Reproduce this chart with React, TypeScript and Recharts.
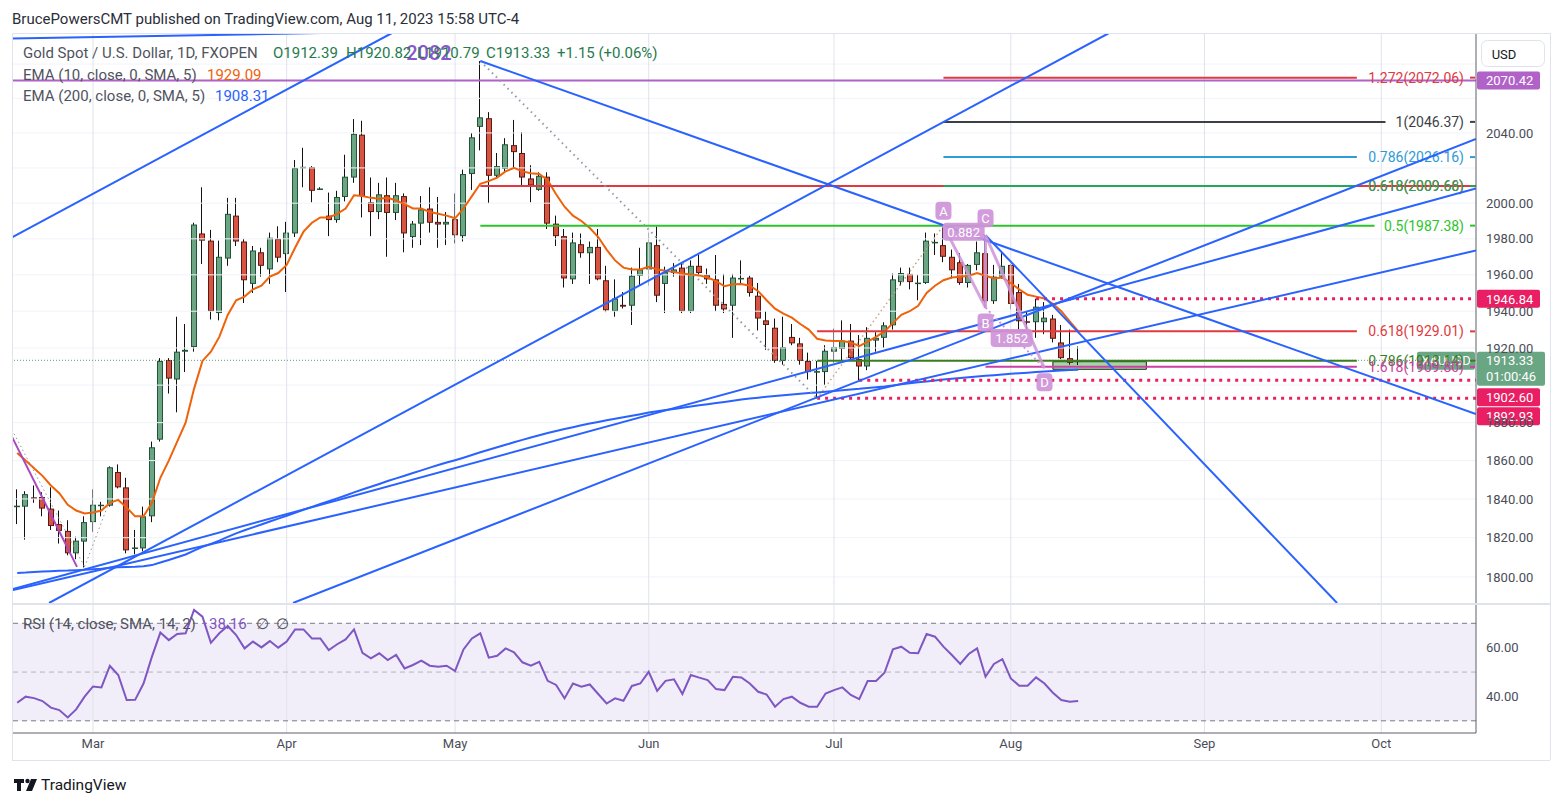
import React from "react";
import {
  ComposedChart,
  Bar,
  Line,
  XAxis,
  YAxis,
  ReferenceLine,
  ReferenceArea,
  ReferenceDot,
} from "recharts";

// XAUUSD daily, FXOPEN. Bar index 0 = Feb 16 2023, 126 = Aug 11 2023 (weekdays only)
const opens = [
  1836, 1836, 1840.8, 1841, 1835, 1827, 1823.5, 1812, 1818, 1828,
  1836.5, 1836.5, 1854, 1846, 1814.5, 1814.5, 1831, 1871, 1913.5, 1903,
  1918, 1920.5, 1983, 1979, 1939, 1969, 1993, 1978.5, 1955, 1972.5,
  1963, 1980, 1971.5, 1983, 2020, 2020.5, 2008, 1993, 1990.5, 2003.5,
  2014.5, 2039, 2000.5, 1995, 2004.5, 1994.5, 2004, 1981, 1988.5, 1997,
  1989.5, 1988, 1991, 1981.5, 2016.5, 2043.5, 2048.5, 2015.5, 2019.5, 2033,
  2028.5, 2014, 2007.5, 2015, 1988.5, 1981.5, 1957.5, 1977, 1972, 1975.5,
  1957, 1940, 1943.5, 1943, 1959.5, 1963, 1976.5, 1955, 1961, 1964,
  1940, 1965, 1960, 1957.5, 1944, 1943, 1958, 1958.5, 1948.5, 1935,
  1931, 1913, 1926, 1922.5, 1913, 1907, 1907, 1918, 1919.5, 1924,
  1914, 1910, 1924, 1925.5, 1932.3, 1956, 1960.5, 1955, 1955.5, 1978,
  1976.5, 1970, 1967, 1955.5, 1965.5, 1972, 1945.5, 1959, 1965.5, 1950.5,
  1934.5, 1934, 1934, 1936, 1923, 1914.5, 1912.39,
];
const highs = [
  1845, 1844, 1847, 1843.5, 1846, 1834, 1829, 1820.5, 1831, 1845,
  1838.5, 1857, 1858, 1851, 1824, 1836, 1870, 1914.5, 1914.5, 1937,
  1933, 1989, 2009, 1985, 1979, 2003, 2003, 1980, 1976, 1975,
  1983.5, 1987, 1989.5, 2024.5, 2031.5, 2021, 2009, 2006, 2007, 2027.5,
  2048, 2047, 2014.5, 2011.5, 2014.5, 2011.5, 2005.5, 1990, 2004, 2009,
  2003.5, 1995, 2005.5, 2019, 2040, 2081.8, 2052, 2028.5, 2037, 2047.5,
  2040.5, 2021.5, 2017.5, 2017.5, 1993, 1985.5, 1983.5, 1983, 1978.5, 1985.5,
  1965, 1957.5, 1950.5, 1964, 1975, 1983.5, 1987, 1964.5, 1966.5, 1966.5,
  1968, 1971, 1963.5, 1971, 1960.5, 1960.5, 1968, 1959.5, 1955.5, 1940,
  1936, 1937, 1933, 1925.5, 1917.5, 1913, 1921.5, 1930.5, 1935, 1933,
  1927, 1931.3, 1928.6, 1934, 1960.7, 1964, 1964, 1960, 1983.5, 1983,
  1987.38, 1974, 1972, 1966, 1978.5, 1982, 1965.5, 1972, 1966, 1955,
  1940, 1946.84, 1945, 1938, 1932.5, 1930, 1920.82,
];
const lows = [
  1827, 1819, 1838, 1831, 1824, 1817, 1811, 1809, 1804.8, 1823,
  1831, 1836, 1845.5, 1812, 1811.5, 1813, 1828, 1870, 1895.5, 1885.5,
  1907, 1918, 1966, 1935.5, 1935, 1965, 1976, 1944.5, 1950, 1959,
  1955, 1967, 1950.5, 1981, 2009, 2000.5, 2007.5, 1981.5, 1989, 2001,
  2011.5, 1992, 1981.5, 1991, 1970, 1990.5, 1972.5, 1975, 1976.5, 1983.5,
  1975, 1976.5, 1977.5, 1978.5, 2007.5, 2030, 2000, 2014.5, 2018, 2020.5,
  2010, 2000.5, 2007, 1985.5, 1976, 1953, 1955, 1969.5, 1955, 1957,
  1939.5, 1937, 1941.5, 1932.5, 1954, 1954, 1945, 1939, 1959, 1939,
  1939, 1960, 1955, 1940, 1939, 1925.5, 1955.5, 1948, 1929.5, 1919,
  1912, 1911, 1921.5, 1911, 1903, 1892.93, 1900, 1912, 1913, 1914,
  1902.6, 1908, 1918, 1920, 1930, 1954, 1952, 1946, 1955, 1971,
  1967, 1958, 1954.5, 1953, 1962.5, 1942, 1944, 1958, 1941, 1929.5,
  1929, 1925.5, 1927.5, 1923, 1914, 1911, 1910.79,
];
const closes = [
  1836.5, 1842.5, 1840.2, 1835, 1826, 1823.5, 1812, 1818.5, 1828, 1837,
  1837, 1856.5, 1846, 1813.5, 1815, 1831, 1867, 1913, 1903.5, 1918,
  1919, 1988, 1979, 1940, 1970, 1994, 1978.5, 1957, 1973.5, 1965,
  1980.6, 1969.5, 1983.5, 2020, 2020.6, 2007, 2008.3, 1990.5, 2003.5, 2015,
  2039.5, 2004, 1995, 2005, 1994.5, 2004.5, 1983, 1988.5, 1996.5, 1989,
  1988, 1989.5, 1982, 2016.5, 2037.5, 2049, 2015.5, 2021, 2033.5, 2029,
  2014.5, 2010, 2015.5, 1988.5, 1981.5, 1958, 1978, 1972, 1975.5, 1957.5,
  1940.5, 1947, 1942.5, 1959.5, 1963, 1978, 1948.5, 1961.5, 1963, 1940,
  1965, 1961, 1957.5, 1943, 1941, 1958.5, 1958.3, 1950, 1936, 1932.5,
  1913, 1920.5, 1922.5, 1913, 1907, 1907.5, 1918.5, 1920.5, 1924, 1914.5,
  1910, 1925.5, 1925.5, 1932.3, 1957.5, 1961, 1956, 1955.7, 1979, 1978.3,
  1970, 1962.5, 1955.5, 1965.5, 1972.5, 1945.5, 1959, 1965, 1944, 1934.5,
  1934, 1942.5, 1936.5, 1925, 1914.5, 1912, 1913.33,
];
const ema10 = [
  1864, 1860, 1856, 1852, 1847, 1843, 1837, 1834, 1832.5, 1833,
  1834, 1838, 1839.5, 1835.5, 1831, 1831, 1838, 1851, 1860, 1870,
  1880, 1898, 1913, 1918, 1926, 1938, 1946, 1948, 1952, 1954,
  1959, 1961, 1965.5, 1975, 1984, 1989, 1992, 1992, 1994, 1997,
  2004.5, 2004, 2003, 2002.5, 2003, 2001.5, 1999.5, 1997, 1997, 1995,
  1994, 1993, 1991.5, 1997, 2004, 2011, 2012.5, 2014.5, 2018, 2020,
  2018, 2017, 2016.5, 2013, 2005, 1998, 1993, 1990, 1986, 1981,
  1974, 1968, 1964, 1963, 1963, 1964.5, 1963, 1962.3, 1961.5, 1960.8,
  1960.2, 1959.7, 1958.5, 1956.5, 1953.7, 1954.8, 1955, 1954, 1951, 1946,
  1941.4, 1938.7, 1936.5, 1933, 1930, 1925, 1924, 1923.8, 1923.8, 1923,
  1921, 1923.5, 1926, 1929, 1933.5, 1938, 1940, 1943, 1950, 1954,
  1957, 1958.5, 1959, 1959.5, 1961, 1959.5, 1958, 1958.5, 1955.5, 1952,
  1949, 1948, 1947, 1944, 1940, 1934.5, 1929.09,
];
const ema200 = [
  1802.0, 1802.2, 1802.5, 1802.7, 1802.9, 1803.1, 1803.2, 1803.4, 1803.6, 1803.9,
  1804.2, 1804.6, 1804.9, 1805.0, 1805.1, 1805.4, 1806.0, 1807.3, 1808.6, 1810.0,
  1811.4, 1813.4, 1815.3, 1816.8, 1818.5, 1820.4, 1822.2, 1823.8, 1825.3, 1826.8,
  1828.3, 1829.8, 1831.3, 1832.8, 1834.4, 1835.9, 1837.4, 1838.8, 1840.3, 1841.8,
  1843.4, 1844.9, 1846.3, 1847.8, 1849.3, 1850.7, 1852.1, 1853.5, 1854.9, 1856.3,
  1857.7, 1859.0, 1860.2, 1861.5, 1862.9, 1864.4, 1865.7, 1867.0, 1868.3, 1869.6,
  1870.9, 1872.1, 1873.3, 1874.5, 1875.6, 1876.6, 1877.6, 1878.6, 1879.5, 1880.4,
  1881.3, 1882.1, 1882.9, 1883.7, 1884.5, 1885.4, 1886.0, 1886.7, 1887.3, 1887.9,
  1888.6, 1889.2, 1889.8, 1890.4, 1891.0, 1891.6, 1892.3, 1892.8, 1893.3, 1893.8,
  1894.2, 1894.6, 1895.0, 1895.4, 1895.8, 1896.1, 1896.5, 1896.9, 1897.3, 1897.7,
  1898.0, 1898.4, 1898.8, 1899.2, 1899.8, 1900.4, 1901.0, 1901.5, 1902.0, 1902.5,
  1903.0, 1903.4, 1903.8, 1904.2, 1904.6, 1905.0, 1905.3, 1905.7, 1906.1, 1906.4,
  1906.7, 1907.0, 1907.3, 1907.6, 1907.8, 1908.1, 1908.31,
];
const rsi = [
  37.4, 39.9, 39.3, 38.1, 35.4, 34.4, 31.4, 34.7, 39.9, 44.1,
  43.7, 52.5, 48.8, 38.5, 38.6, 45.3, 56.3, 66.2, 63.1, 65.6,
  65.9, 75.5, 72.7, 62.0, 65.9, 68.9, 65.2, 59.7, 62.5, 60.1,
  62.7, 60.0, 62.5, 67.5, 67.5, 63.8, 63.8, 59.0, 61.4, 63.4,
  67.5, 57.9, 55.6, 57.7, 54.9, 57.0, 51.5, 52.9, 54.7, 52.6,
  52.2, 52.6, 50.4, 59.3, 63.8, 65.9, 55.9, 56.7, 59.7, 58.1,
  54.0, 52.6, 54.2, 46.4, 44.7, 39.2, 45.3, 44.0, 44.9, 41.0,
  37.1, 39.2, 38.2, 44.3, 45.3, 50.1, 42.3, 46.4, 47.0, 41.0,
  48.8, 47.7, 46.7, 43.0, 42.6, 48.1, 47.8, 45.3, 41.9, 40.8,
  35.8, 38.9, 39.9, 37.4, 35.8, 35.8, 41.2, 42.6, 43.7, 40.6,
  38.9, 46.3, 46.3, 49.7, 59.3, 60.4, 57.9, 57.7, 65.6, 64.5,
  60.4, 57.0, 53.3, 57.4, 59.7, 48.1, 53.3, 55.3, 47.4, 44.4,
  44.4, 47.8, 45.3, 41.5, 38.5, 37.8, 38.16,
];

// time axis: first bar of each month
const monthTicks = [9, 32, 52, 75, 97, 118, 141, 162];
const monthLabels = ["Mar", "Apr", "May", "Jun", "Jul", "Aug", "Sep", "Oct"];
const priceTicks = [2040, 2000, 1980, 1960, 1940, 1920, 1880, 1860, 1840, 1820, 1800];
const gridPrices = [2080, 2060, 2040, 2020, 2000, 1980, 1960, 1940, 1920, 1900, 1880, 1860, 1840, 1820, 1800];
const rsiTicks = [40, 60];

// drawings: [barIndex1, price1, barIndex2, price2]
const trendLines = [
  [-0.62, 1980.8, 44.5, 2098.3],
  [-0.62, 2095.1, 36, 2098.3],
  [3.78, 1786.8, 129.67, 2098.3],
  [55, 2081.8, 173.25, 1884.6],
  [115, 1982, 156.75, 1786.8],
  [32.75, 1786.8, 173.25, 2036.6],
  [-0.62, 1793.7, 173.25, 2008.3],
  [-0.62, 1793.2, 173.25, 1973.5],
];

// fib levels: label, price, from bar, to bar
const fibLabels = ["1.272(2072.06)", "1(2046.37)", "0.786(2026.16)", "0.618(2009.66)", "0.618(2009.68)", "0.5(1987.38)", "0.618(1929.01)", "0.786(1913.14)", "1.618(1909.80)"];
const fibPrices = [2072.06, 2046.37, 2026.16, 2009.66, 2009.68, 1987.38, 1929.01, 1913.14, 1909.8];
const fibFrom = [110, 110, 110, 55, 110, 55, 95, 95, 115];
const fibTo = [159.1, 162.5, 159.1, 173.25, 159.1, 161.2, 159.1, 159.1, 159.1];
const fibColors = ["#e0393e", "#3c3f46", "#2e9ad6", "#e0393e", "#22a85a", "#2bc42b", "#e0393e", "#3a7d1e", "#cc3fa6"];

// support / resistance marks (dotted), start bar
const levelPrices = [1946.84, 1902.6, 1892.93];
const levelFrom = [121, 100, 95];
const levelTagShift = [0, 17, 18];

const pricePoints = { A: [110, 1987.38], B: [115, 1942], C: [115, 1982], D: [122, 1909] };

const FONT = "Roboto, 'Noto Sans', Arial, sans-serif";
const W = 1564;
const H = 807;
const PLOT_LEFT = 12;
const PLOT_RIGHT = 1476;
const AXIS_W = W - PLOT_RIGHT;
const X_DOMAIN: [number, number] = [-0.62, 173.25];
const PRICE_DOMAIN: [number, number] = [1786.8, 2098.3];
const RSI_DOMAIN: [number, number] = [25, 77.5];

const UP_FILL = "#6ba583";
const UP_EDGE = "#225437";
const DN_FILL = "#d75442";
const DN_EDGE = "#5b1a13";
const BLUE = "#2962ff";
const ORANGE = "#ef6209";
const PURPLE = "#b062c8";
const PINK = "#e91e63";
const RSI_COLOR = "#7e57c2";
const PATTERN = "#ce93d8";
const TAG_GREEN = "#6aa584";
const AXIS_TEXT = "#4a4d57";
const AXIS_LINE = "#5d606b";
const GRID = "#e0e3eb";

const CandleBody = (p: any) => {
  const { x, y, width, height, payload } = p;
  if (x == null || payload == null) return null;
  const up = payload.c >= payload.o;
  const c = Math.round(x + width / 2);
  const h = Math.max(height || 0, 1);
  return (
    <rect
      x={c - 2.5}
      y={y + 0.5}
      width={5}
      height={Math.max(h - 1, 0.5)}
      fill={up ? UP_FILL : DN_FILL}
      stroke={up ? UP_EDGE : DN_EDGE}
      strokeWidth={1}
    />
  );
};

const CandleWick = (p: any) => {
  const { x, y, width, height } = p;
  if (x == null) return null;
  const c = Math.round(x + width / 2) - 0.5;
  return <line x1={c} x2={c} y1={y} y2={y + height} stroke="#111" strokeWidth={1} />;
};

const fibLabel = (text: string, color: string) => (props: any) => {
  const vb = props.viewBox || {};
  const y = vb.y;
  return (
    <g>
      <text x={PLOT_RIGHT - 12} y={y} textAnchor="end" dominantBaseline="central" fill={color} fontSize={14} fontFamily={FONT}>
        {text}
      </text>
      <line x1={PLOT_RIGHT - 6} x2={PLOT_RIGHT - 1} y1={y} y2={y} stroke={color} strokeWidth={2} />
    </g>
  );
};

const axisTag = (text: string, bg: string, shift = 0) => (props: any) => {
  const vb = props.viewBox || {};
  const left = vb.x + vb.width + 1;
  const cy = vb.y + shift;
  return (
    <g>
      <rect x={left} y={cy - 9} width={63} height={18} rx={2} fill={bg} />
      <text x={left + 9} y={cy + 0.5} dominantBaseline="central" fill="#fff" fontSize={13} fontFamily={FONT}>
        {text}
      </text>
    </g>
  );
};

const lastPriceTag = (props: any) => {
  const vb = props.viewBox || {};
  const left = vb.x + vb.width + 1;
  const cy = vb.y;
  return (
    <g>
      <rect x={left - 60} y={cy - 8.5} width={58} height={18} rx={2} fill={TAG_GREEN} />
      <text x={left - 31} y={cy + 0.5} textAnchor="middle" dominantBaseline="central" fill="#fff" fontSize={13} fontFamily={FONT}>
        XAUUSD
      </text>
      <rect x={left} y={cy - 8.5} width={68} height={34} rx={2} fill={TAG_GREEN} />
      <text x={left + 9} y={cy + 0.5} dominantBaseline="central" fill="#fff" fontSize={13} fontFamily={FONT}>
        1913.33
      </text>
      <text x={left + 9} y={cy + 16.5} dominantBaseline="central" fill="#fff" fontSize={13} fontFamily={FONT}>
        01:00:46
      </text>
    </g>
  );
};

const noteShape = (text: string, dy: number, w: number) => (p: any) => {
  const cx = p.cx;
  const cy = p.cy + dy;
  return (
    <g>
      <rect x={cx - w / 2} y={cy - 9} width={w} height={18} rx={4} fill={PATTERN} fillOpacity={0.92} />
      <text x={cx} y={cy + 0.5} textAnchor="middle" dominantBaseline="central" fill="#fff" fontSize={13} fontFamily={FONT}>
        {text}
      </text>
    </g>
  );
};

const bigNote = (p: any) => (
  <text x={p.cx} y={p.cy} textAnchor="middle" dominantBaseline="central" fill="#8b55cf" fontSize={20} fontWeight={500} fontFamily={FONT}>
    2082
  </text>
);

export default function App() {
  const rows = opens.map((o, i) => ({
    i,
    o,
    h: highs[i],
    l: lows[i],
    c: closes[i],
    wick: [lows[i], highs[i]],
    body: [Math.min(o, closes[i]), Math.max(o, closes[i])],
    ema10: ema10[i],
    ema200: ema200[i],
    rsi: rsi[i],
  }));

  const seg = (x1: number, y1: number, x2: number, y2: number) => [
    { x: x1, y: y1 },
    { x: x2, y: y2 },
  ];
  const A = pricePoints.A;
  const B = pricePoints.B;
  const C = pricePoints.C;
  const D = pricePoints.D;

  const tickStyle = { fontSize: 13, fill: AXIS_TEXT, fontFamily: FONT };

  return (
    <div style={{ position: "absolute", left: 0, top: 0, width: W, height: H, background: "#fff", overflow: "hidden" }}>
      {/* price pane */}
      <div style={{ position: "absolute", left: 0, top: 0 }}>
        <ComposedChart width={W} height={604} data={rows} margin={{ top: 33, right: 0, bottom: 1, left: PLOT_LEFT }}>
          <XAxis xAxisId={0} dataKey="i" type="number" domain={X_DOMAIN} allowDataOverflow hide />
          <XAxis xAxisId="wick" dataKey="i" type="number" domain={X_DOMAIN} allowDataOverflow hide />
          <YAxis
            yAxisId={0}
            orientation="right"
            width={AXIS_W}
            type="number"
            scale="log"
            domain={PRICE_DOMAIN}
            allowDataOverflow
            ticks={priceTicks}
            interval={0}
            tickFormatter={(v: number) => v.toFixed(2)}
            tick={tickStyle}
            tickLine={false}
            tickSize={4}
            tickMargin={6}
            axisLine={{ stroke: AXIS_LINE }}
          />
          {gridPrices.map((p) => (
            <ReferenceLine key={"gp" + p} y={p} stroke="#f0f3fa" ifOverflow="hidden" />
          ))}
          {monthTicks.map((t) => (
            <ReferenceLine key={"gm" + t} x={t} stroke={GRID} ifOverflow="hidden" />
          ))}

          <Bar xAxisId="wick" dataKey="wick" barSize={2} shape={CandleWick} isAnimationActive={false} />
          <Bar xAxisId={0} dataKey="body" barSize={6} shape={CandleBody} isAnimationActive={false} />

          <Line dataKey="ema200" type="linear" stroke={BLUE} strokeWidth={2} dot={false} activeDot={false} isAnimationActive={false} />
          <Line dataKey="ema10" type="linear" stroke={ORANGE} strokeWidth={2} dot={false} activeDot={false} isAnimationActive={false} />

          {/* last price */}
          <ReferenceLine y={1913.33} stroke="#5b9a78" strokeDasharray="1 2" ifOverflow="hidden" label={lastPriceTag} />

          {/* horizontal ray at 2070.42 */}
          <ReferenceLine y={2070.42} stroke={PURPLE} strokeWidth={2} ifOverflow="hidden" label={axisTag("2070.42", PURPLE)} />

          {fibPrices.map((p, k) => (
            <ReferenceLine
              key={"fib" + k}
              segment={seg(fibFrom[k], p, fibTo[k], p)}
              stroke={fibColors[k]}
              strokeWidth={2}
              ifOverflow="hidden"
              label={fibLabel(fibLabels[k], fibColors[k])}
            />
          ))}

          {levelPrices.map((p, k) => (
            <ReferenceLine
              key={"lv" + k}
              segment={seg(levelFrom[k], p, X_DOMAIN[1], p)}
              stroke={PINK}
              strokeWidth={3}
              strokeDasharray="3 5"
              ifOverflow="hidden"
              label={axisTag(p.toFixed(2), PINK, levelTagShift[k])}
            />
          ))}

          <ReferenceArea x1={123} x2={134.1} y1={1908.5} y2={1912.6} fill="#a3d6a3" fillOpacity={1} stroke="#222" strokeWidth={1} ifOverflow="hidden" />

          {/* earlier pattern leg on the left */}
          <ReferenceLine segment={seg(-0.62, 1872.5, 7.1, 1805.1)} stroke="#ab47bc" strokeWidth={2} ifOverflow="hidden" />
          <ReferenceLine segment={seg(-0.62, 1876.2, 8, 1805.1)} stroke="#9598a1" strokeDasharray="1.5 3" ifOverflow="hidden" />
          <ReferenceLine segment={seg(8, 1805.1, 11, 1839.4)} stroke="#9598a1" strokeDasharray="1.5 3" ifOverflow="hidden" />

          {/* May high -> June low, June low -> A */}
          <ReferenceLine segment={seg(55, 2081.8, 95, 1892.93)} stroke="#9598a1" strokeWidth={2} strokeDasharray="1.5 4" ifOverflow="hidden" />
          <ReferenceLine segment={seg(95, 1892.93, 110, 1987.38)} stroke="#c9a27e" strokeWidth={1.5} strokeDasharray="1.5 3" ifOverflow="hidden" />

          {trendLines.map(([x1, p1, x2, p2], k) => (
            <ReferenceLine key={"tl" + k} segment={seg(x1, p1, x2, p2)} stroke={BLUE} strokeWidth={2} ifOverflow="hidden" />
          ))}

          {/* ABCD */}
          <ReferenceLine segment={seg(A[0], A[1], B[0], B[1])} stroke={PATTERN} strokeWidth={3} strokeOpacity={0.85} ifOverflow="hidden" />
          <ReferenceLine segment={seg(B[0], B[1], C[0], C[1])} stroke={PATTERN} strokeWidth={3} strokeOpacity={0.85} ifOverflow="hidden" />
          <ReferenceLine segment={seg(C[0], C[1], D[0], D[1])} stroke={PATTERN} strokeWidth={3} strokeOpacity={0.85} ifOverflow="hidden" />
          <ReferenceLine segment={seg(B[0], B[1], D[0], D[1])} stroke={PATTERN} strokeWidth={2} strokeDasharray="2 3" ifOverflow="hidden" />
          <ReferenceLine segment={seg(A[0], A[1], C[0], C[1])} stroke={PATTERN} strokeWidth={2} strokeDasharray="2 3" ifOverflow="hidden" />

          <ReferenceDot x={A[0]} y={A[1]} r={0} ifOverflow="visible" shape={noteShape("A", -15, 16)} />
          <ReferenceDot x={C[0]} y={C[1]} r={0} ifOverflow="visible" shape={noteShape("C", -17, 16)} />
          <ReferenceDot x={B[0]} y={B[1]} r={0} ifOverflow="visible" shape={noteShape("B", 15, 16)} />
          <ReferenceDot x={D[0]} y={D[1]} r={0} ifOverflow="visible" shape={noteShape("D", 14, 16)} />
          <ReferenceDot x={112.4} y={1984.0} r={0} ifOverflow="visible" shape={noteShape("0.882", 0, 42)} />
          <ReferenceDot x={118.1} y={1925.4} r={0} ifOverflow="visible" shape={noteShape("1.852", 0, 42)} />
          <ReferenceDot x={48.9} y={2086.5} r={0} ifOverflow="visible" shape={bigNote} />
        </ComposedChart>
      </div>

      {/* RSI pane */}
      <div style={{ position: "absolute", left: 0, top: 603 }}>
        <ComposedChart width={W} height={204} data={rows} margin={{ top: 2, right: 0, bottom: 0, left: PLOT_LEFT }}>
          <XAxis
            dataKey="i"
            type="number"
            domain={X_DOMAIN}
            allowDataOverflow
            ticks={monthTicks}
            interval={0}
            tickFormatter={(v: number) => monthLabels[monthTicks.indexOf(v)]}
            height={74}
            tickLine={false}
            tickSize={0}
            tickMargin={6}
            axisLine={{ stroke: AXIS_LINE }}
            tick={{ fontSize: 13, fill: AXIS_TEXT, fontFamily: FONT }}
          />
          <YAxis
            orientation="right"
            width={AXIS_W}
            type="number"
            domain={RSI_DOMAIN}
            allowDataOverflow
            ticks={rsiTicks}
            interval={0}
            tickFormatter={(v: number) => v.toFixed(2)}
            tick={tickStyle}
            tickLine={false}
            tickSize={4}
            tickMargin={6}
            axisLine={{ stroke: AXIS_LINE }}
          />
          <ReferenceArea y1={30} y2={70} fill={RSI_COLOR} fillOpacity={0.1} stroke="none" ifOverflow="hidden" />
          {monthTicks.map((t) => (
            <ReferenceLine key={"rm" + t} x={t} stroke={GRID} ifOverflow="hidden" />
          ))}
          <ReferenceLine y={70} stroke="#787b86" strokeDasharray="5 4" />
          <ReferenceLine y={50} stroke="#b2b5be" strokeDasharray="5 4" />
          <ReferenceLine y={30} stroke="#787b86" strokeDasharray="5 4" />
          <Line dataKey="rsi" type="linear" stroke={RSI_COLOR} strokeWidth={2} dot={false} activeDot={false} isAnimationActive={false} />
        </ComposedChart>
      </div>

      {/* frame, legends, header, footer */}
      <svg width={W} height={H} style={{ position: "absolute", left: 0, top: 0, pointerEvents: "none" }}>
        <line x1={12} x2={1550} y1={33.5} y2={33.5} stroke={GRID} />
        <line x1={12.5} x2={12.5} y1={33} y2={760} stroke={GRID} />
        <line x1={1550.5} x2={1550.5} y1={33} y2={760} stroke={GRID} />
        <line x1={12} x2={1550} y1={760.5} y2={760.5} stroke={GRID} />
        <line x1={12} x2={1550} y1={604} y2={604} stroke={GRID} strokeWidth={2} />

        <rect x={1481.5} y={40.5} width={63} height={26} rx={6} fill="#fff" stroke={GRID} />
        <text x={1504} y={54} textAnchor="middle" dominantBaseline="central" fill="#131722" fontSize={13} fontFamily={FONT}>
          USD
        </text>

        <text x={12} y={19} dominantBaseline="central" fill="#2a2e39" fontSize={15} fontFamily={FONT}>
          BrucePowersCMT published on TradingView.com, Aug 11, 2023 15:58 UTC-4
        </text>

        <g fontSize={15} fontFamily={FONT} dominantBaseline="central">
          <text x={23} y={53} fill="#50535e">Gold Spot / U.S. Dollar, 1D, FXOPEN</text>
          <text x={273} y={53} fill="#267a4c">O1912.39</text>
          <text x={346} y={53} fill="#267a4c">H1920.82</text>
          <text x={417} y={53} fill="#267a4c">L1910.79</text>
          <text x={486} y={53} fill="#267a4c">C1913.33</text>
          <text x={557} y={53} fill="#267a4c">+1.15 (+0.06%)</text>
          <text x={23} y={74.5} fill="#50535e">EMA (10, close, 0, SMA, 5)</text>
          <text x={207} y={74.5} fill={ORANGE}>1929.09</text>
          <text x={23} y={95.5} fill="#50535e">EMA (200, close, 0, SMA, 5)</text>
          <text x={215} y={95.5} fill={BLUE}>1908.31</text>
          <text x={23} y={624} fill="#50535e">RSI (14, close, SMA, 14, 2)</text>
          <text x={209} y={624} fill={RSI_COLOR}>38.16</text>
          <text x={256} y={624} fill="#50535e">∅</text>
          <text x={276} y={624} fill="#50535e">∅</text>
        </g>

        <g fill="#131722">
          <path d="M14 779h10v4h-3v8h-4v-8h-3z" />
          <circle cx={27.5} cy={781} r={2.2} />
          <path d="M31 779h6l-5 12h-6z" />
        </g>
        <text x={41} y={785} dominantBaseline="central" fill="#131722" fontSize={15.5} fontFamily={FONT}>
          TradingView
        </text>
      </svg>
    </div>
  );
}
